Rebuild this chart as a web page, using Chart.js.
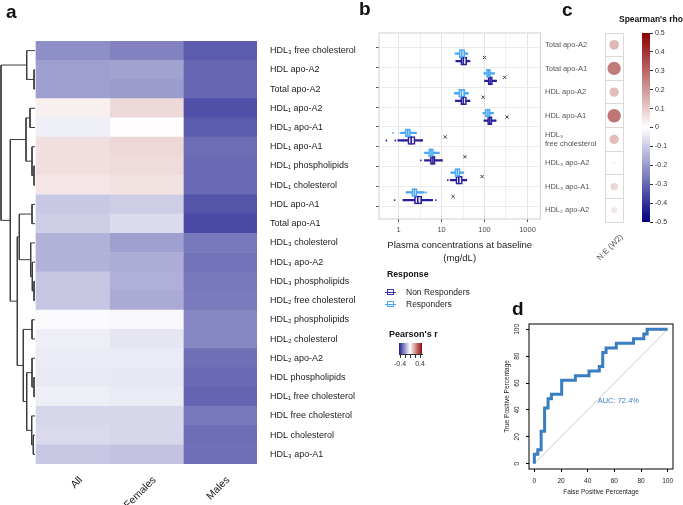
<!DOCTYPE html>
<html><head><meta charset="utf-8">
<script src="https://cdn.jsdelivr.net/npm/chart.js@4.4.1/dist/chart.umd.min.js"></script>
<style>
body{margin:0;background:#fff;width:683px;height:505px;overflow:hidden;position:relative;font-family:"Liberation Sans",Arial,Helvetica,sans-serif;}
canvas{position:absolute;}
.t{position:absolute;white-space:nowrap;color:#111;line-height:1;}
.panel{font-weight:bold;font-size:19px;}
.ico{position:absolute;width:7px;height:6px;border:1.3px solid;box-sizing:border-box;}
.ico:after{content:"";position:absolute;left:-3px;right:-3px;top:1.5px;height:1px;background:currentColor;}
.rot{transform:rotate(-45deg);transform-origin:100% 50%;}
</style></head><body>
<canvas id="ca" width="362" height="505" style="left:0;top:0"></canvas>
<canvas id="cb" width="186" height="265" style="left:360px;top:0"></canvas>
<canvas id="cc" width="85" height="270" style="left:545px;top:0"></canvas>
<canvas id="ccb" width="47" height="235" style="left:636px;top:0"></canvas>
<canvas id="cpr" width="45" height="45" style="left:390px;top:330px"></canvas>
<canvas id="cd" width="188" height="210" style="left:495px;top:295px"></canvas>

<div class="t panel" style="left:6px;top:2px">a</div>
<div class="t panel" style="left:359px;top:-1px">b</div>
<div class="t panel" style="left:562px;top:0px">c</div>
<div class="t panel" style="left:512px;top:299px">d</div>

<div class="t" style="left:619px;top:15px;font-weight:bold;font-size:8.5px">Spearman's rho</div>
<div class="t rot" id="rhoColLbl" style="right:61px;top:232px;font-size:8px;color:#555"></div>
<div class="t" style="left:387px;top:270px;font-weight:bold;font-size:8.7px">Response</div>
<div class="ico" style="left:387px;top:289px;color:#3b2fb0;border-color:#3b2fb0"></div>
<div class="t" style="left:406px;top:288px;font-size:8.5px;color:#222">Non Responders</div>
<div class="ico" style="left:387px;top:301px;color:#4aa8f5;border-color:#4aa8f5"></div>
<div class="t" style="left:406px;top:300px;font-size:8.5px;color:#222">Responders</div>
<div class="t" style="left:389px;top:330px;font-weight:bold;font-size:9px">Pearson's r</div>

<script>
// ---------------- DATA ----------------
// Panel a: heatmap (Pearson's r)
const heatRows = ['HDL₃ free cholesterol','HDL apo-A2','Total apo-A2','HDL₁ apo-A2','HDL₂ apo-A1','HDL₁ apo-A1','HDL₁ phospholipids','HDL₁ cholesterol','HDL apo-A1','Total apo-A1','HDL₃ cholesterol','HDL₃ apo-A2','HDL₃ phospholipids','HDL₂ free cholesterol','HDL₂ phospholipids','HDL₂ cholesterol','HDL₂ apo-A2','HDL phospholipids','HDL₁ free cholesterol','HDL free cholesterol','HDL cholesterol','HDL₃ apo-A1'];
const heatCols = ['All','Females','Males'];
const rAll     = [-0.22,-0.19,-0.19,0.03,-0.033,0.062,0.062,0.049,-0.108,-0.098,-0.151,-0.151,-0.112,-0.112,-0.01,-0.033,-0.039,-0.043,-0.033,-0.078,-0.073,-0.108];
const rFemales = [-0.245,-0.183,-0.196,0.074,0.005,0.079,0.07,0.057,-0.098,-0.07,-0.186,-0.163,-0.157,-0.167,-0.014,-0.049,-0.039,-0.045,-0.039,-0.078,-0.078,-0.118];
const rMales   = [-0.32,-0.30,-0.30,-0.343,-0.32,-0.284,-0.294,-0.294,-0.333,-0.353,-0.265,-0.275,-0.265,-0.261,-0.235,-0.235,-0.28,-0.294,-0.304,-0.265,-0.284,-0.28];
// dendrogram merges: [child A, child B, height]; leaves 0..21, merge k gets id 22+k
const dendMerges = [[1,2,1.0],[0,22,8.3],[3,4,5.0],[6,7,1.0],[5,25,3.0],[24,26,9.0],[8,9,3.0],[12,13,1.0],[11,29,2.7],[10,30,4.3],[28,31,15.7],[14,15,3.0],[17,18,1.0],[16,34,3.0],[20,21,1.7],[19,36,3.3],[35,37,8.3],[33,38,11.7],[32,39,17.7],[27,40,24.7],[23,41,34.0]];

// Panel b: plasma concentrations (mg/dL)
const compRows = ['Total apo-A2','Total apo-A1','HDL apo-A2','HDL apo-A1',['HDL₃','free cholesterol'],'HDL₃ apo-A2','HDL₃ apo-A1','HDL₂ apo-A2'];
const respQ1  = [25.6,111,25,104,1.43,5.0,20.4,2.03];
const respMed = [29.5,124,29,120,1.64,5.7,23.4,2.34];
const respQ3  = [34.7,138,34.5,136,1.89,6.5,27,2.7];
const respLo  = [20.7,97,20,92,1.15,4.0,16.5,1.5];
const respHi  = [41,170,42,160,2.56,8.8,33,4.0];
const nonQ1   = [28,121,28,118,1.64,5.5,21.5,2.34];
const nonMed  = [32,135,32,133,1.96,6.3,25.2,2.8];
const nonQ3   = [38.6,153,38,150,2.42,7.1,30.5,3.45];
const nonLo   = [21.5,101,21,98,0.96,4.0,15.9,1.26];
const nonHi   = [46,190,46,185,3.64,10.5,38.6,6.2];
const refMark = [100,295,93,335,12.2,35,88,18.6];
const respDotRow = [1,1,2,2,3,3,4,4,5,5,5,5,6,6,7,7,8,8,8];
const respDotVal = [22,40,100,165,21,40,95,158,0.74,1.1,2.56,2.1,4.3,8.5,17,31,1.64,3.3,4.4];
const nonDotRow  = [1,1,2,2,3,3,4,4,5,5,5,5,6,6,7,7,8,8,8];
const nonDotVal  = [23,44,104,185,22,44,100,180,0.52,0.84,3.34,1.3,3.3,9.8,14,37,0.81,1.6,7.4];

// Panel c: Spearman's rho
const rhoCol = 'N:E (W2)';
const rho = [0.14,0.26,0.13,0.27,0.13,-0.02,0.08,0.05];

// Panel d: ROC
const fpr = [0,2.6,5.1,7.7,10.3,12.8,20.5,30.8,41.0,48.7,51.3,53.8,61.5,74.4,82.1,84.6,100];
const tpr = [0,6.9,10.3,24.1,41.4,48.3,51.7,62.1,65.5,69.0,72.4,82.8,86.2,89.7,93.1,96.6,100];
const aucPct = 72.4;

// ---------------- SETUP ----------------
const FONT = '"Liberation Sans", Arial, Helvetica, sans-serif';
Chart.defaults.font.family = FONT;
Chart.defaults.animation = false;
Chart.defaults.responsive = false;
Chart.defaults.devicePixelRatio = 1;
Chart.defaults.events = [];
Chart.defaults.plugins.legend.display = false;
Chart.defaults.plugins.tooltip.enabled = false;

function pal(v, lim = 0.5) {
  const t = Math.max(-1, Math.min(1, v / lim));
  let r, g, b;
  if (t < 0) { const a = -t; r = 255 * (1 - a); g = 255 * (1 - a); b = 255 - 127 * a; }
  else { const a = t; r = 255 - 116 * a; g = 255 * (1 - a); b = 255 * (1 - a); }
  return `rgb(${Math.round(r)},${Math.round(g)},${Math.round(b)})`;
}
function gradient(chart, vertical, vmin, vmax) {
  const a = chart.chartArea; if (!a) return '#fff';
  const g = vertical ? chart.ctx.createLinearGradient(0, a.bottom, 0, a.top)
                     : chart.ctx.createLinearGradient(a.left, 0, a.right, 0);
  for (let i = 0; i <= 20; i++) { const v = vmin + (vmax - vmin) * i / 20; g.addColorStop(i / 20, pal(v)); }
  return g;
}
const frame = (color, w) => ({ id: 'frame', afterDraw(chart) {
  const { ctx, chartArea: a } = chart; ctx.save(); ctx.strokeStyle = color; ctx.lineWidth = w;
  ctx.strokeRect(a.left, a.top, a.right - a.left, a.bottom - a.top); ctx.restore(); } });

// ---------------- PANEL A ----------------
const DEND_UNIT = 3 / 221;              // heatmap column units per dendrogram height unit
const dendX = h => -(h + 1) * DEND_UNIT;
const nodes = heatRows.map((_, i) => ({ y: i, h: 0 }));
const dendSets = dendMerges.map(([a, b, h]) => {
  const A = nodes[a], B = nodes[b];
  nodes.push({ y: (A.y + B.y) / 2, h });
  return { type: 'scatter', xAxisID: 'x', yAxisID: 'yd', showLine: true, pointRadius: 0, borderColor: '#3c3c3c', borderWidth: 1,
    data: [{ x: dendX(A.h), y: A.y }, { x: dendX(h), y: A.y }, { x: dendX(h), y: B.y }, { x: dendX(B.h), y: B.y }] };
});
const heatSets = [rAll, rFemales, rMales].map((vals, c) => ({
  type: 'bar', indexAxis: 'y', xAxisID: 'x', yAxisID: 'y', grouped: false, barPercentage: 1, categoryPercentage: 1, borderWidth: 0,
  data: vals.map((v, i) => ({ y: heatRows[i], x: [c, c + 1] })), backgroundColor: vals.map(v => pal(v))
}));
new Chart(document.getElementById('ca'), {
  type: 'scatter',
  data: { datasets: [...heatSets, ...dendSets] },
  options: {
    layout: { padding: { top: 41, left: 0, right: 0, bottom: 0 } },
    scales: {
      x: { type: 'linear', min: dendX(35), max: 3, grid: { display: false }, border: { display: false },
        afterBuildTicks: s => { s.ticks = heatCols.map((_, i) => ({ value: i + 0.5 })); },
        afterFit: s => { s.height = 41; },
        ticks: { autoSkip: false, minRotation: 45, maxRotation: 45, color: '#1a1a1a', font: { size: 10.5 }, padding: 2, labelOffset: 8,
          callback: (v, i) => heatCols[i] } },
      y: { type: 'category', labels: heatRows, position: 'right', offset: true, grid: { display: false }, border: { display: false },
        afterFit: s => { s.width = 105; },
        ticks: { autoSkip: false, color: '#1a1a1a', font: { size: 9 }, padding: 5 } },
      yd: { type: 'linear', display: false, reverse: true, min: -0.5, max: heatRows.length - 0.5 }
    }
  }
});

// ---------------- PANEL B ----------------
const RESP = '#4aa8f5', NON = '#2a1f9a';
const OFF_R = -0.2, OFF_N = 0.18;
const rowsIdx = compRows.map((_, i) => i + 1);
const barSet = (lo, hi, off, color, fill, thick, bw, order) => ({
  type: 'bar', indexAxis: 'y', grouped: false, barThickness: thick, borderSkipped: false,
  data: rowsIdx.map((r, i) => ({ y: r + off, x: [lo[i], hi[i]] })),
  backgroundColor: fill, borderColor: color, borderWidth: bw, order });
const medSet = (med, off, color) => ({ type: 'scatter', data: rowsIdx.map((r, i) => ({ x: med[i], y: r + off })),
  pointStyle: 'line', rotation: 90, radius: 4, borderColor: color, borderWidth: 1.6, order: 3 });
const dotSet = (rowsArr, vals, off, color) => ({ type: 'scatter', data: vals.map((v, i) => ({ x: v, y: rowsArr[i] + off })),
  pointStyle: 'circle', radius: 0.9, backgroundColor: color, borderWidth: 0, order: 2 });
const MAJ = [1, 10, 100, 1000];
new Chart(document.getElementById('cb'), {
  type: 'scatter',
  data: { datasets: [
    barSet(respLo, respHi, OFF_R, RESP, RESP, 1.6, 0, 6),
    barSet(nonLo, nonHi, OFF_N, NON, NON, 1.6, 0, 6),
    barSet(respQ1, respQ3, OFF_R, RESP, 'rgba(255,255,255,0.9)', 8, 1.6, 4),
    barSet(nonQ1, nonQ3, OFF_N, NON, 'rgba(255,255,255,0.9)', 8, 1.6, 4),
    medSet(respMed, OFF_R, RESP), medSet(nonMed, OFF_N, NON),
    dotSet(respDotRow, respDotVal, OFF_R, RESP), dotSet(nonDotRow, nonDotVal, OFF_N, NON),
    { type: 'scatter', data: rowsIdx.map((r, i) => ({ x: refMark[i], y: r })), pointStyle: 'crossRot', radius: 2.3,
      borderColor: '#444', borderWidth: 1, order: 1 }
  ] },
  options: {
    layout: { padding: { top: 33, right: 4, left: 0, bottom: 0 } },
    scales: {
      x: { type: 'logarithmic', min: 0.35, max: 2000, border: { display: false },
        afterBuildTicks: s => { s.ticks = [1, 3.1623, 10, 31.623, 100, 316.23, 1000].map(v => ({ value: v })); },
        afterFit: s => { s.height = 46; },
        grid: { color: c => MAJ.includes(c.tick && c.tick.value) ? '#e4e4e4' : '#f1f1f1', tickLength: 3,
          tickColor: c => MAJ.includes(c.tick && c.tick.value) ? '#555' : 'rgba(0,0,0,0)' },
        ticks: { autoSkip: false, maxRotation: 0, color: '#4d4d4d', font: { size: 7.5 }, padding: 3,
          callback: v => MAJ.includes(v) ? String(v) : '' },
        title: { display: true, text: ['Plasma concentrations at baseline', '(mg/dL)'], color: '#222',
          font: { size: 9.5, lineHeight: 1.35 }, padding: { top: 0, bottom: 0 } } },
      y: { type: 'linear', reverse: true, min: 0.35, max: 8.55, border: { display: false },
        afterBuildTicks: s => { s.ticks = rowsIdx.map(v => ({ value: v })); },
        afterFit: s => { s.width = 19; },
        grid: { color: '#ebebeb', tickLength: 3, tickColor: '#555' }, ticks: { display: false } }
    }
  },
  plugins: [frame('#cfcfcf', 1)]
});

// ---------------- PANEL C ----------------
document.getElementById('rhoColLbl').textContent = rhoCol;
new Chart(document.getElementById('cc'), {
  type: 'bubble',
  data: { datasets: [{ data: rho.map((v, i) => ({ x: rhoCol, y: i, r: 13 * Math.sqrt(Math.abs(v)) })),
    backgroundColor: rho.map(v => pal(v)), borderWidth: 0 }] },
  options: {
    layout: { padding: { top: 33, right: 3, left: 0, bottom: 0 } },
    scales: {
      x: { type: 'category', labels: [rhoCol], offset: true, grid: { offset: true, color: '#d9d9d9', drawTicks: false },
        border: { color: '#d9d9d9' }, afterFit: s => { s.height = 48; }, ticks: { display: false } },
      y: { type: 'category', labels: compRows, offset: true, grid: { offset: true, color: '#d9d9d9', drawTicks: false },
        border: { color: '#d9d9d9' }, afterFit: s => { s.width = 60; },
        ticks: { autoSkip: false, crossAlign: 'far', color: '#555', font: { size: 7.5, lineHeight: 1.3 } } }
    }
  }
});
new Chart(document.getElementById('ccb'), {
  type: 'bar',
  data: { labels: [''], datasets: [{ data: [[-0.5, 0.5]], backgroundColor: c => gradient(c.chart, true, -0.5, 0.5),
    barPercentage: 1, categoryPercentage: 1, borderWidth: 0 }] },
  options: {
    layout: { padding: { top: 33, left: 6, right: 0, bottom: 13 } },
    scales: {
      x: { display: false },
      y: { position: 'right', min: -0.5, max: 0.5, border: { display: false }, afterFit: s => { s.width = 33; },
        grid: { drawOnChartArea: false, tickLength: 3, color: '#333' },
        ticks: { stepSize: 0.1, color: '#333', font: { size: 7 }, padding: 2 } }
    }
  }
});

// Pearson's r key
new Chart(document.getElementById('cpr'), {
  type: 'bar',
  data: { labels: [''], datasets: [{ data: [[-0.44, 0.48]], backgroundColor: c => gradient(c.chart, false, -0.44, 0.48),
    barPercentage: 1, categoryPercentage: 1, borderWidth: 0 }] },
  options: {
    indexAxis: 'y',
    layout: { padding: { top: 13, left: 9, right: 13, bottom: 0 } },
    scales: {
      y: { display: false },
      x: { min: -0.44, max: 0.48, border: { display: true, color: '#333' }, afterFit: s => { s.height = 21; },
        afterBuildTicks: s => { s.ticks = [-0.4, -0.2, 0, 0.2, 0.4].map(v => ({ value: v })); },
        grid: { drawOnChartArea: false, tickLength: 4, color: '#333' },
        ticks: { autoSkip: false, maxRotation: 0, color: '#333', font: { size: 7 }, padding: 2,
          callback: v => (Math.abs(v) > 0.3 ? String(v) : '') } }
    }
  }
});

// ---------------- PANEL D ----------------
const rotY = { id: 'rotY', afterDraw(chart) {
  const s = chart.scales.y, c = chart.ctx; c.save(); c.fillStyle = '#222'; c.font = `6.5px ${FONT}`;
  c.textAlign = 'center'; c.textBaseline = 'middle';
  s.ticks.forEach(t => { c.save(); c.translate(chart.chartArea.left - 12, s.getPixelForValue(t.value));
    c.rotate(-Math.PI / 2); c.fillText(String(t.value), 0, 0); c.restore(); });
  c.restore(); } };
const aucText = { id: 'aucText', afterDatasetsDraw(chart) {
  const c = chart.ctx; c.save(); c.fillStyle = '#3a7dc0'; c.font = `7.5px ${FONT}`; c.textAlign = 'center'; c.textBaseline = 'middle';
  c.fillText(`AUC: ${aucPct}%`, chart.scales.x.getPixelForValue(63), chart.scales.y.getPixelForValue(47)); c.restore(); } };
const pctTicks = s => { s.ticks = [0, 20, 40, 60, 80, 100].map(v => ({ value: v })); };
new Chart(document.getElementById('cd'), {
  type: 'scatter',
  data: { datasets: [
    { data: [{ x: 0, y: 0 }, { x: 100, y: 100 }], showLine: true, borderColor: '#c4c4c4', borderWidth: 0.9, pointRadius: 0, order: 2 },
    { data: fpr.map((x, i) => ({ x, y: tpr[i] })), showLine: true, stepped: 'after', borderColor: '#3a7dc0', borderWidth: 3,
      pointRadius: 0, order: 1 }
  ] },
  options: {
    layout: { padding: { top: 29, right: 10, left: 0, bottom: 0 } },
    scales: {
      x: { min: -4, max: 104, afterBuildTicks: pctTicks, afterFit: s => { s.height = 36; }, border: { display: false },
        grid: { drawOnChartArea: false, tickLength: 3, color: '#000' },
        ticks: { autoSkip: false, maxRotation: 0, color: '#222', font: { size: 6.5 }, padding: 5 },
        title: { display: true, text: 'False Positive Percentage', color: '#222', font: { size: 6.5 }, padding: { top: 0, bottom: 9 } } },
      y: { min: -4, max: 104, afterBuildTicks: pctTicks, afterFit: s => { s.width = 34; }, border: { display: false },
        grid: { drawOnChartArea: false, tickLength: 3, color: '#000' }, ticks: { display: false },
        title: { display: true, text: 'True Positive Percentage', color: '#222', font: { size: 6.5 }, padding: { top: 8, bottom: 0 } } }
    }
  },
  plugins: [frame('#000', 1), rotY, aucText]
});
</script>
</body></html>
